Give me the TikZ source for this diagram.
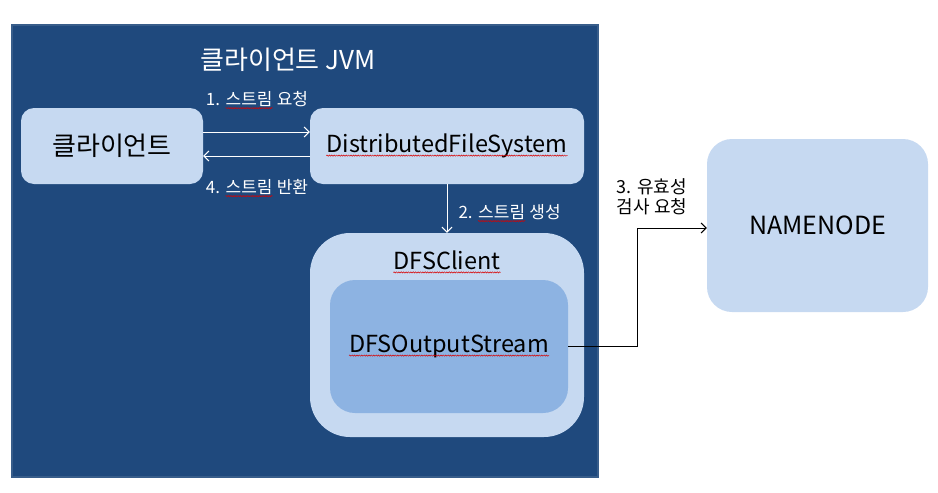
\documentclass[tikz,border=0pt]{standalone}
\usepackage{fontspec}
\setmainfont{Noto Sans CJK KR}
\usetikzlibrary{arrows.meta,decorations.pathmorphing}
\definecolor{jvmblue}{HTML}{1F497D}
\definecolor{jvmline}{HTML}{385D8A}
\definecolor{lightbox}{HTML}{C6D9F1}
\definecolor{midbox}{HTML}{8DB3E2}
% red spell-check wave under a word
\newcommand{\squig}[1]{\tikz[baseline=(w.base),sharp corners]{\node[inner sep=0pt,minimum width=0pt,minimum height=0pt,fill=none,draw=none] (w) {#1}; \draw[red!85!black,line width=0.5pt,decorate,decoration={snake,amplitude=0.6pt,segment length=2.4pt}] ([yshift=-3pt]w.base west) -- ([yshift=-3pt]w.base east);}}

\begin{document}
\begin{tikzpicture}[x=1pt,y=-1pt]
    %
    % `jvm' is the dark background box.
    % `block' is used for the light rounded boxes, `inner' for the stream.
    % `flow' and `call' are the white and black arrows.
    \tikzstyle{jvm} = [draw=jvmline,fill=jvmblue,line width=2pt,minimum width=586pt,minimum height=452pt]
    \tikzstyle{block} = [fill=lightbox,rounded corners=13pt,font=\fontsize{23.5}{27}\selectfont]
    \tikzstyle{inner} = [fill=midbox,rounded corners=25pt,font=\fontsize{23.5}{27}\selectfont]
    \tikzstyle{flow} = [white,line width=1pt,-{Straight Barb[length=5pt,width=10pt]}]
    \tikzstyle{call} = [black,line width=1pt,-{Straight Barb[length=5pt,width=10pt]}]
    \tikzstyle{note} = [white,font=\fontsize{17}{20}\selectfont]
    %
    \useasboundingbox (0,0) rectangle (938,493);
    %
    % Client JVM
    \node[jvm] (jvmbox) at (305,251) {};
    \node[white,font=\fontsize{26}{30}\selectfont] (title) at (288,60) {클라이언트 JVM};
    %
    % Row 1
    \node[block,minimum width=182pt,minimum height=76pt,font=\fontsize{26}{30}\selectfont] (client) at (112,146) {클라이언트};
    \node[block,minimum width=274pt,minimum height=76pt] (dfs) at (447,146) {\squig{DistributedFileSystem}};
    %
    % Row 2
    \node[block,rounded corners=40pt,minimum width=274pt,minimum height=204pt] (dfsclient) at (447,335) {};
    \node[font=\fontsize{23.5}{27}\selectfont] (clientname) at (447,262) {\squig{DFSClient}};
    \node[inner,minimum width=238pt,minimum height=133pt] (outstream) at (449,346.5) {\squig{DFSOutputStream}};
    %
    % Name node
    \node[block,rounded corners=25pt,minimum width=221pt,minimum height=173pt,font=\fontsize{25}{29}\selectfont] (namenode) at (817.5,225.5) {NAMENODE};
    %
    % Arrows
    \draw[flow] ([yshift=14pt]client.east) -- ([yshift=14pt]dfs.west);
    \draw[flow] ([yshift=-10pt]dfs.west) -- ([yshift=-10pt]client.east);
    \draw[flow] (dfs.south) -- (dfsclient.north);
    \draw[call] (outstream.east) -- ++(69,0) |- ([yshift=-2.5pt]namenode.west);
    %
    % Arrow labels
    \node[note] (req) at (257,100) {1. \squig{스트림} 요청};
    \node[note] (ret) at (257,188) {4. \squig{스트림} 반환};
    \node[note,anchor=west] (make) at (455,213) {2. \squig{스트림} 생성};
    \node[note,black,align=center,font=\fontsize{18}{20}\selectfont] (check) at (652,197) {3. 유효성\\검사 요청};
    %
\end{tikzpicture}
\end{document}
